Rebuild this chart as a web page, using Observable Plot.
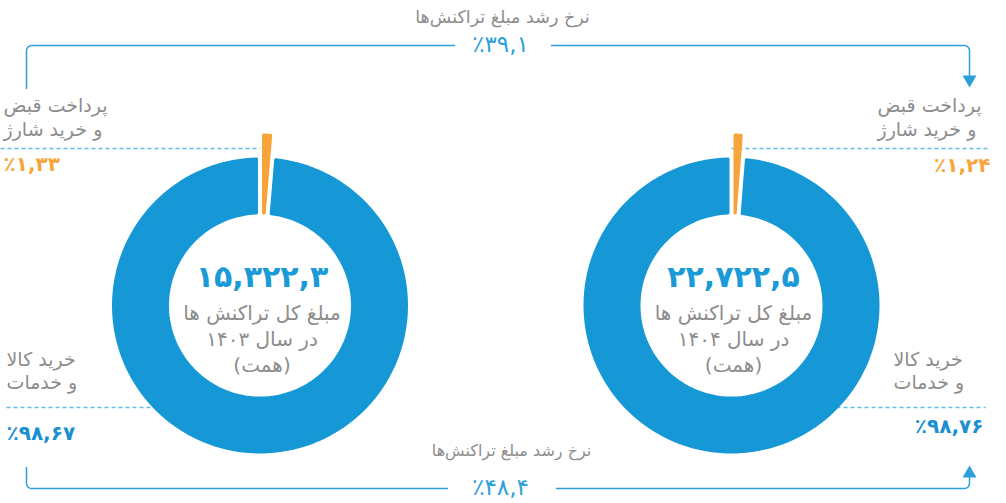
<!DOCTYPE html>
<html><head><meta charset="utf-8">
<script src="https://cdn.jsdelivr.net/npm/d3@7"></script>
<script src="https://cdn.jsdelivr.net/npm/@observablehq/plot@0.6"></script>
<style>html,body{margin:0;padding:0;background:#fff;} svg{display:block}</style>
</head><body><div id="chart"></div>
<script>
// ---- data ----
const years = [1403, 1404];
const totals = [15322.3, 22722.5];               // همت
const categories = ["پرداخت قبض\nو خرید شارژ", "خرید کالا\nو خدمات"];
const billsShare = [1.33, 1.24];                  // %
const goodsShare = [98.67, 98.76];                // %
const growthTitle = "نرخ رشد مبلغ تراکنش‌ها";
const growthValues = [39.1, 48.4];                // bills, goods growth %
const captionLines = ["مبلغ کل تراکنش ها", "در سال", "(همت)"];

// ---- helpers ----
const faDigits = "۰۱۲۳۴۵۶۷۸۹";
const toFa = s => String(s).replace(/[0-9]/g, d => faDigits[+d]);
const faNum = (v, dec) => toFa(d3.format(",." + dec + "f")(v).replace(".", "#").replace("#", ","));
const faPct = (v, dec) => "٪" + faNum(v, dec);

const W = 1006, H = 503;
const BLUE = "#1598d5", ORANGE = "#f7a53b", GRAY = "#8d8d8d", LINE = "#2da0da", DASH = "#5cbfea";
const centers = [{cx: 259.5, cy: 305}, {cx: 731, cy: 305}];
const R = 148, RIN = 91, RORANGE = 172;

function ring(cx, cy, r0, r1, a0, a1, pad, steps = 160) {
  const pts = [];
  const d1 = Math.asin(pad / r1), d0 = Math.asin(pad / r0);
  const o0 = a0 + d1, o1 = a1 - d1, i0 = a0 + d0, i1 = a1 - d0;
  for (let i = 0; i <= steps; i++) { const a = o0 + (o1 - o0) * i / steps; pts.push([cx + r1 * Math.sin(a), cy - r1 * Math.cos(a)]); }
  for (let i = steps; i >= 0; i--) { const a = i0 + (i1 - i0) * i / steps; pts.push([cx + r0 * Math.sin(a), cy - r0 * Math.cos(a)]); }
  pts.push(pts[0]);
  return pts;
}
function rounded(pts, r, n = 8) {
  const out = [pts[0]];
  for (let i = 1; i < pts.length - 1; i++) {
    const [x0, y0] = pts[i - 1], [x1, y1] = pts[i], [x2, y2] = pts[i + 1];
    const d1 = Math.hypot(x1 - x0, y1 - y0), d2 = Math.hypot(x2 - x1, y2 - y1);
    const p1 = [x1 - (x1 - x0) / d1 * r, y1 - (y1 - y0) / d1 * r];
    const p2 = [x1 + (x2 - x1) / d2 * r, y1 + (y2 - y1) / d2 * r];
    for (let k = 0; k <= n; k++) {
      const t = k / n, a = (1 - t) * (1 - t), b = 2 * t * (1 - t), c = t * t;
      out.push([a * p1[0] + b * x1 + c * p2[0], a * p1[1] + b * y1 + c * p2[1]]);
    }
  }
  out.push(pts[pts.length - 1]);
  return out;
}

// ---- marks ----
const marks = [];

// dashed leader lines (under donuts)
const dashes = [
  {x1: 0, x2: centers[0].cx, y: 148},
  {x1: centers[1].cx, x2: 990, y: 148},
  {x1: 6, x2: centers[0].cx, y: 407},
  {x1: centers[1].cx, x2: 985, y: 407}
];
marks.push(Plot.link(dashes, {x1: "x1", x2: "x2", y1: "y", y2: "y", stroke: DASH, strokeWidth: 1.5, strokeDasharray: "4,3"}));

// donut slices
centers.forEach((c, i) => {
  const slices = [
    {share: billsShare[i], color: ORANGE, outer: RORANGE},
    {share: goodsShare[i], color: BLUE, outer: R}
  ];
  let acc = 0;
  const total = d3.sum(slices, s => s.share);
  for (const s of slices) {
    const a0 = acc / total * 2 * Math.PI; acc += s.share;
    const a1 = acc / total * 2 * Math.PI;
    const pts = ring(c.cx, c.cy, RIN + 1.5, s.outer - 1.5, a0, a1, 3.5);
    marks.push(Plot.line(pts, {x: d => d[0], y: d => d[1], fill: s.color, stroke: s.color, strokeWidth: 3, strokeLinejoin: "round", curve: "linear"}));
  }
});

// connectors
const connectors = [
  [[26, 88], [26, 45], [454, 45]],
  [[551, 45], [969, 45], [969, 76]],
  [[26, 467], [26, 488], [447, 488]],
  [[556, 488], [969, 488], [969, 476]]
];
for (const c of connectors) marks.push(Plot.line(rounded(c, 6), {x: d => d[0], y: d => d[1], stroke: LINE, strokeWidth: 1.5}));
marks.push(Plot.dot([{x: 969, y: 79, rot: 180}, {x: 969, y: 473, rot: 0}], {x: "x", y: "y", rotate: "rot", symbol: "triangle", r: 5.2, fill: LINE, stroke: "none"}));

// growth titles & values
const growth = [{x: 502, y: 17, ty: 44, size: 17.5, v: growthValues[0]}, {x: 511, y: 450, ty: 487, size: 16, v: growthValues[1]}];
marks.push(Plot.text(growth, {x: "x", y: "y", text: () => growthTitle, fontSize: d => d.size, fill: GRAY}));
marks.push(Plot.text(growth, {x: d => 500, y: "ty", text: d => faPct(d.v, 1), fontSize: 23, fill: LINE}));

// category labels
const labels = [
  {x: 3, y: 116, t: categories[0]}, {x: 877, y: 116, t: categories[0]},
  {x: 6, y: 369.5, t: categories[1]}, {x: 893, y: 369.5, t: categories[1]}
];
marks.push(Plot.text(labels, {x: "x", y: "y", text: "t", textAnchor: "start", fontSize: 19, lineHeight: 1.25, fill: GRAY}));

// share labels
const shares = [
  {x: 3, y: 164, t: faPct(billsShare[0], 2), c: ORANGE, a: "start"},
  {x: 990, y: 165, t: faPct(billsShare[1], 2), c: ORANGE, a: "end"},
  {x: 6, y: 433, t: faPct(goodsShare[0], 2), c: "#1b8fd0", a: "start"},
  {x: 983, y: 426, t: faPct(goodsShare[1], 2), c: "#1b8fd0", a: "end"}
];
for (const s of shares) marks.push(Plot.text([s], {x: "x", y: "y", text: "t", textAnchor: s.a, fontSize: 20, fontWeight: "bold", fill: s.c}));

// center texts
const centerData = centers.map((c, i) => ({x: c.cx + 2, total: faNum(totals[i], 1), cap: captionLines[0] + "\n" + captionLines[1] + " " + toFa(years[i]) + "\n" + captionLines[2]}));
marks.push(Plot.text(centerData, {x: "x", y: () => 277, text: "total", fontSize: 30, fontWeight: "bold", fill: "#1a9ad7"}));
marks.push(Plot.text(centerData, {x: "x", y: () => 337, text: "cap", fontSize: 20, lineHeight: 1.3, fill: GRAY}));

const chart = Plot.plot({
  width: W, height: H, margin: 0,
  x: {domain: [0, W], range: [0, W], axis: null},
  y: {domain: [0, H], range: [0, H], axis: null},
  style: {fontFamily: "DejaVu Sans", background: "#fff", overflow: "visible"},
  marks
});
document.getElementById("chart").append(chart);
</script></body></html>
